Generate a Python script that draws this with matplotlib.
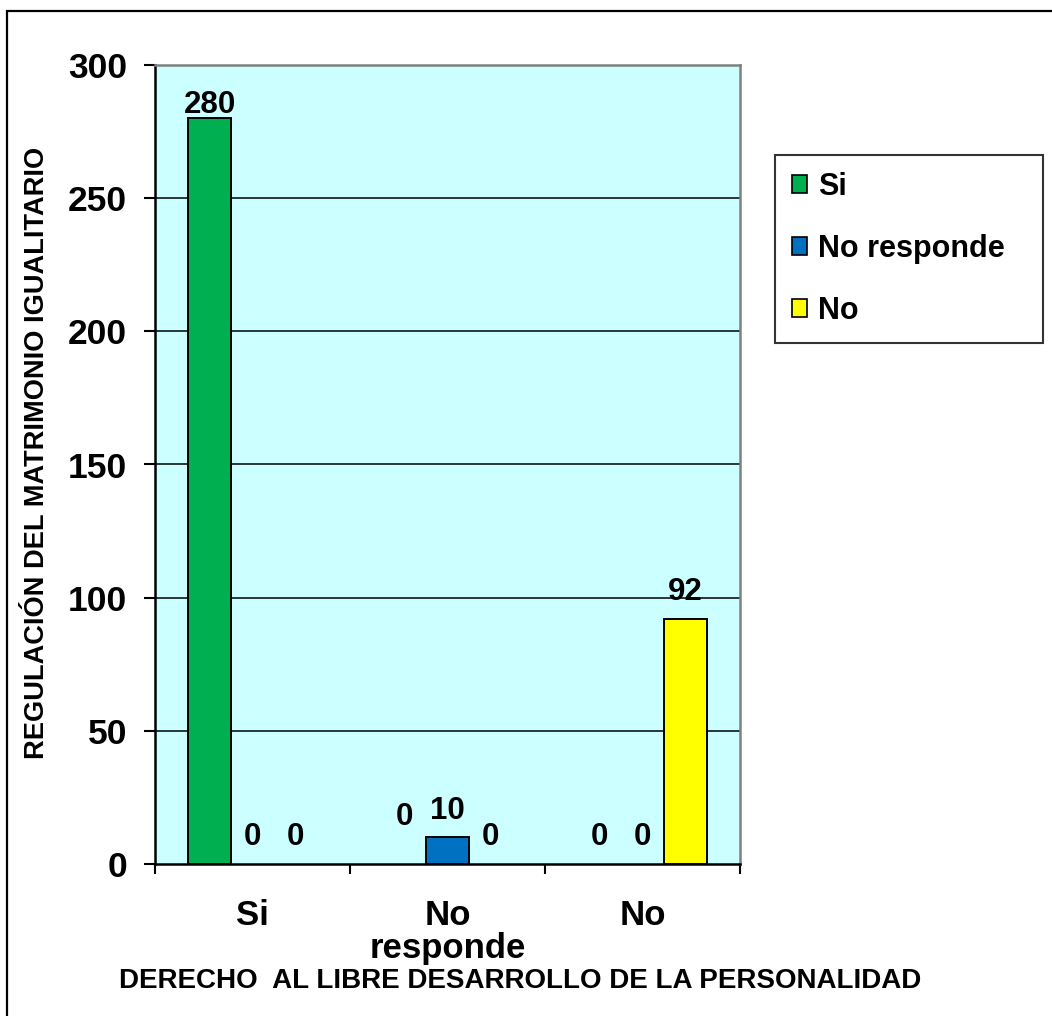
import numpy as np
import matplotlib
matplotlib.use('Agg')
import matplotlib.pyplot as plt
from matplotlib.patches import Patch, Rectangle

## data
categories = ['Si', 'No\nresponde', 'No']
series_names = ['Si', 'No responde', 'No']
si_vals = [280, 0, 0]
nr_vals = [0, 10, 0]
no_vals = [0, 0, 92]
y_ticks = [0, 50, 100, 150, 200, 250, 300]
ylabel = 'REGULACIÓN DEL MATRIMONIO IGUALITARIO'
xlabel = 'DERECHO  AL LIBRE DESARROLLO DE LA PERSONALIDAD'

colors = ['#00B050', '#0070C0', '#FFFF00']
# label lift above bar top (points), one row per series, one column per group
lifts = [[3.6, 28.0, 13.7],
         [13.7, 13.3, 13.7],
         [13.7, 13.7, 13.7]]

plt.rcParams['font.family'] = ['Liberation Sans', 'DejaVu Sans']
plt.rcParams['font.weight'] = 'bold'

fig = plt.figure(figsize=(10.52, 10.16), dpi=100)
ax = fig.add_axes([155/1052, 1 - 864/1016, 585/1052, 799/1016])
ax.set_facecolor('#CCFFFF')

x = np.arange(len(categories))
w = 0.22
all_vals = [si_vals, nr_vals, no_vals]
for i, vals in enumerate(all_vals):
    xs = x + (i - 1) * w
    lw = [1.4 if v > 0 else 0 for v in vals]
    ax.bar(xs, vals, width=w, color=colors[i], edgecolor='black',
           linewidth=lw, zorder=3, label=series_names[i])
    for j, v in enumerate(vals):
        ax.annotate(str(v), (xs[j], v), xytext=(0, lifts[i][j]),
                    textcoords='offset points', ha='center', va='baseline',
                    fontsize=22.5, fontweight='bold', zorder=4,
                    annotation_clip=False)

ax.set_xlim(-0.5, 2.5)
ax.set_ylim(0, 300)
ax.set_yticks(y_ticks)
ax.set_yticklabels([str(t) for t in y_ticks], fontsize=25.5, fontweight='bold')
ax.set_xticks(x)
ax.set_xticklabels(categories, fontsize=25, fontweight='bold', linespacing=1.0)
ax.set_xticks([-0.5, 0.5, 1.5, 2.5], minor=True)
ax.tick_params(axis='x', which='major', length=0, pad=25)
ax.tick_params(axis='x', which='minor', length=7, width=1.5, direction='out')
ax.tick_params(axis='y', length=8, width=1.5, pad=12)

for yv in y_ticks[1:-1]:
    ax.axhline(yv, color='black', linewidth=1.1, zorder=1)

ax.spines['left'].set_linewidth(1.8)
ax.spines['bottom'].set_linewidth(1.8)
ax.spines['top'].set_color('#808080')
ax.spines['right'].set_color('#808080')
ax.spines['top'].set_linewidth(1.8)
ax.spines['right'].set_linewidth(1.8)

handles = [Patch(facecolor=colors[i], edgecolor='black', linewidth=1.2)
           for i in range(3)]
leg = fig.legend(handles, series_names, loc='upper left',
                 bbox_to_anchor=(775/1052, 1 - 338/1016, 268/1052, 183/1016),
                 mode='expand', fontsize=22, frameon=True, fancybox=False,
                 handlelength=0.5, handleheight=0.5, handletextpad=0.35,
                 labelspacing=1.05, borderpad=0.55, borderaxespad=0)
leg.get_frame().set_edgecolor('black')
leg.get_frame().set_linewidth(1.5)
for t in leg.get_texts():
    t.set_fontweight('bold')

fig.text(37/1052, 1 - 453/1016, ylabel, rotation=90, ha='center', va='center',
         fontsize=19.6, fontweight='bold')
fig.text(520/1052, 1 - 981/1016, xlabel, ha='center', va='center',
         fontsize=20, fontweight='bold')

border = Rectangle((7/1052, -0.1), 1.2, 1.1 - 11/1016, transform=fig.transFigure,
                   fill=False, edgecolor='black', linewidth=1.6, clip_on=False)
fig.patches.append(border)

fig.savefig('out.png', dpi=100, facecolor='white')
